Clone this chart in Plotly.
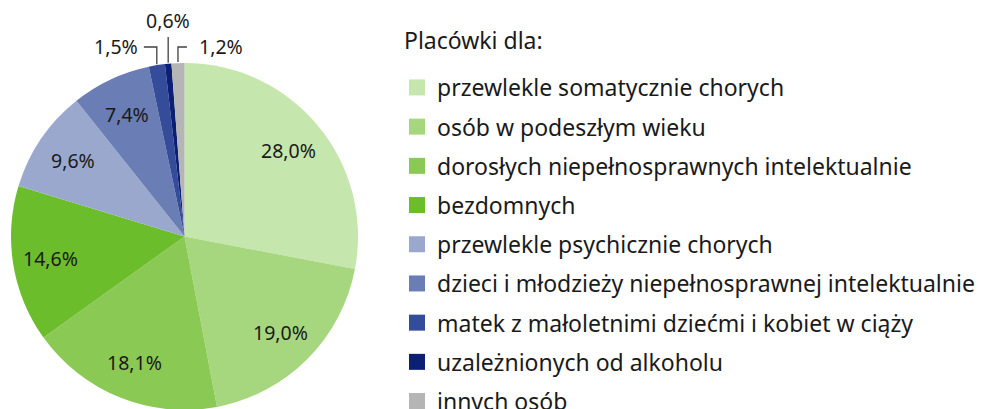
import math
import plotly.graph_objects as go

labels = [
    "przewlekle somatycznie chorych",
    "osób w podeszłym wieku",
    "dorosłych niepełnosprawnych intelektualnie",
    "bezdomnych",
    "przewlekle psychicznie chorych",
    "dzieci i młodzieży niepełnosprawnej intelektualnie",
    "matek z małoletnimi dziećmi i kobiet w ciąży",
    "uzależnionych od alkoholu",
    "innych osób",
]
values = [28.0, 19.0, 18.1, 14.6, 9.6, 7.4, 1.5, 0.6, 1.2]
colors = ["#c5e6ad", "#a6d77e", "#8bc955", "#6bbd2c", "#9aa8cd",
          "#6a7db4", "#354c9a", "#0b1f73", "#b5b5b5"]
legend_title = "Placówki dla:"

W, H = 985, 409
OFF = 8  # page body margin offset
FONT = "Noto Sans"
TXT = "#1a1a1a"
LBL_SIZE = 19.5
LEG_SIZE = 23

# pie geometry in screen pixels
CX, CY, R = 184.5, 236.5, 173.5


def px(x):
    return (x - OFF) / W


def py(y):
    return 1 - (y - OFF) / H


dom_x = [px(CX - R), px(CX + R)]
dom_y = [py(CY + R), py(CY - R)]

fig = go.Figure()
fig.add_trace(go.Pie(
    labels=labels, values=values, sort=False, direction="clockwise",
    rotation=0, marker=dict(colors=colors, line=dict(width=0)),
    textinfo="none", showlegend=False, hoverinfo="label+value",
    domain=dict(x=dom_x, y=dom_y),
))

for lab, col in zip(labels, colors):
    fig.add_trace(go.Scatter(
        x=[None], y=[None], mode="markers", name=lab, legendgroup=lab,
        marker=dict(symbol="square", size=16, color=col),
        showlegend=True, hoverinfo="skip",
    ))


def label(x, y, txt, xanchor="center"):
    fig.add_annotation(x=px(x), y=py(y), xref="paper", yref="paper",
                       xanchor=xanchor, yanchor="middle", text=txt,
                       showarrow=False,
                       font=dict(family=FONT, size=LBL_SIZE, color=TXT))


# data labels at each slice's mid-angle
total = sum(values)
cum = 0.0
small = []
for v in values:
    mid = (cum + v / 2) / total
    cum += v
    ang = 2 * math.pi * mid
    txt = f"{v:.1f}%".replace(".", ",")
    if v >= 5:
        rr = 0.78 * R
        label(CX + rr * math.sin(ang), CY - rr * math.cos(ang), txt)
    else:
        small.append((txt, CX + R * math.sin(ang), CY - R * math.cos(ang)))

line_style = dict(color="#404040", width=1.3)


def path(pts):
    return "M" + " L".join(f"{px(a)},{py(b)}" for a, b in pts)


for i, (txt, ex, ey) in enumerate(small):
    if i == 0:  # left label with elbow
        ly = 47
        fig.add_shape(type="path", xref="paper", yref="paper",
                      path=path([(ex - 13, ly), (ex, ly), (ex, ey - 1)]),
                      line=line_style)
        label(ex - 17, ly, txt, "right")
    elif i == len(small) - 1:  # right label with elbow
        ly = 47
        fig.add_shape(type="path", xref="paper", yref="paper",
                      path=path([(ex, ey - 1), (ex, ly), (ex + 9, ly)]),
                      line=line_style)
        label(ex + 19, ly, txt, "left")
    else:  # top label with vertical line
        fig.add_shape(type="path", xref="paper", yref="paper",
                      path=path([(ex, ey - 1), (ex, 37)]), line=line_style)
        label(ex, 20, txt)

fig.add_annotation(x=px(402), y=py(40), xref="paper", yref="paper",
                   xanchor="left", yanchor="middle", text=legend_title,
                   showarrow=False,
                   font=dict(family=FONT, size=LEG_SIZE, color=TXT))

fig.update_layout(
    width=W, height=H,
    margin=dict(l=0, r=0, t=0, b=0, autoexpand=False),
    paper_bgcolor="white", plot_bgcolor="white",
    xaxis=dict(visible=False), yaxis=dict(visible=False),
    font=dict(family=FONT, size=LEG_SIZE, color=TXT),
    legend=dict(
        x=px(397), xanchor="left", y=py(66), yanchor="top",
        tracegroupgap=6.3, itemsizing="trace", maxheight=700,
        font=dict(family=FONT, size=LEG_SIZE, color=TXT),
        bgcolor="rgba(0,0,0,0)",
    ),
)

fig.write_html("out.html")
